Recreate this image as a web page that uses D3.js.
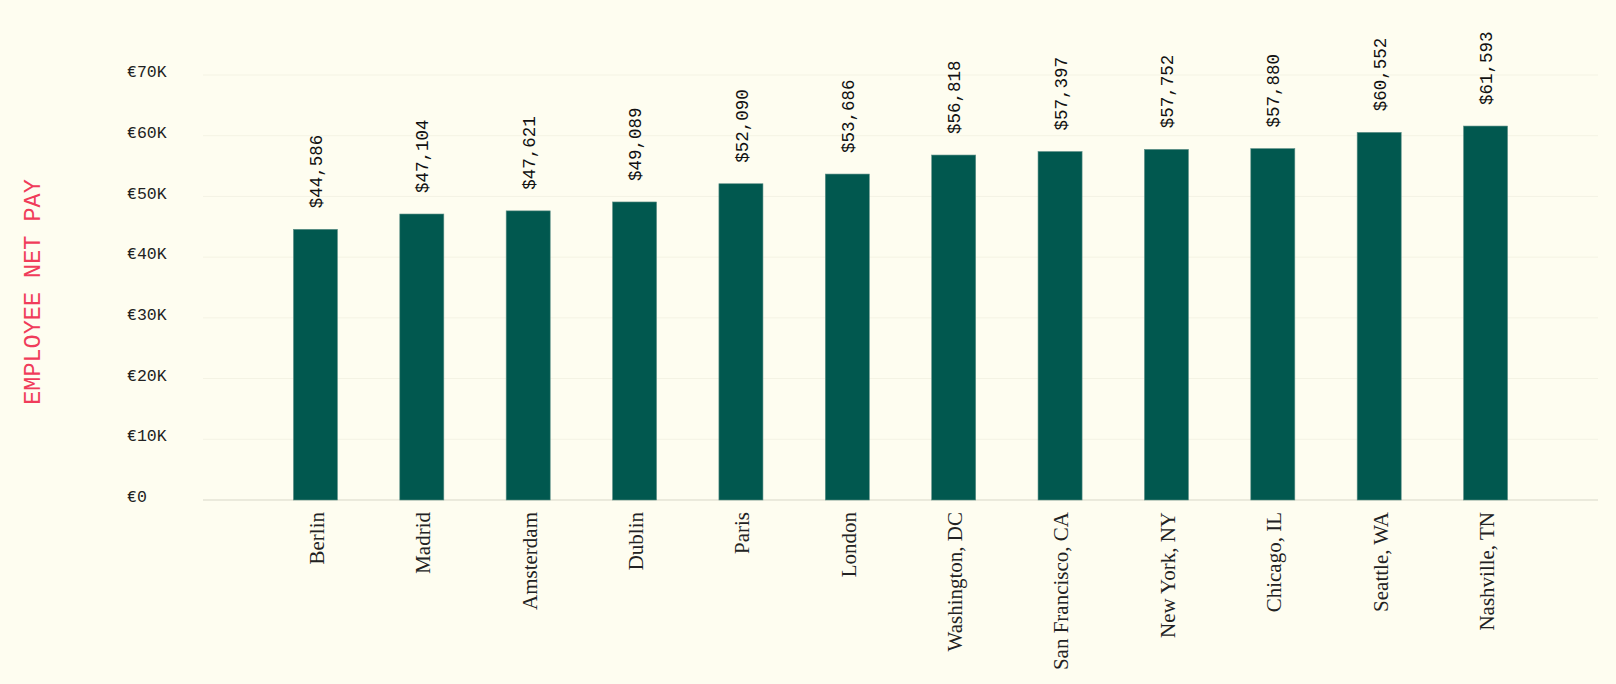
<!DOCTYPE html>
<html>
<head>
<meta charset="utf-8">
<script src="https://cdn.jsdelivr.net/npm/d3@7"></script>
<style>
  body { margin: 0; background: #fefdf0; }
  svg { display: block; }
</style>
</head>
<body>
<div id="chart-area"></div>
<script>
// SVG size
var width = 1616,
	height = 684;

// data
let cities = ["Berlin", "Madrid", "Amsterdam", "Dublin", "Paris", "London",
	"Washington, DC", "San Francisco, CA", "New York, NY", "Chicago, IL",
	"Seattle, WA", "Nashville, TN"];
let netPay = [44586, 47104, 47621, 49089, 52090, 53686,
	56818, 57397, 57752, 57880, 60552, 61593];
let yTicks = [0, 10000, 20000, 30000, 40000, 50000, 60000, 70000];
let yTickLabels = ["€0", "€10K", "€20K", "€30K", "€40K", "€50K", "€60K", "€70K"];

let data = cities.map((c, i) => ({ city: c, pay: netPay[i] }));

let plot = { left: 203, right: 1598, top: 75, bottom: 500 };
let mono = "'Liberation Mono', 'DejaVu Sans Mono', monospace";

let svg = d3.select('#chart-area').append('svg')
	.attr('width', width)
	.attr('height', height);

svg.append('rect')
	.attr('width', width)
	.attr('height', height)
	.attr('fill', '#fefdf0');

let x = d3.scaleBand()
	.domain(cities)
	.range([plot.left, plot.right])
	.paddingInner(0.586)
	.paddingOuter(0.85);

let y = d3.scaleLinear()
	.domain([0, 70000])
	.range([plot.bottom, plot.top]);

// gridlines
svg.append('g')
	.selectAll('line')
	.data(yTicks)
	.enter()
	.append('line')
	.attr('x1', plot.left)
	.attr('x2', plot.right)
	.attr('y1', d => y(d))
	.attr('y2', d => y(d))
	.attr('stroke', d => d === 0 ? '#ebeadc' : '#f4f3e4')
	.attr('stroke-width', d => d === 0 ? 2 : 1);

// y axis labels
let yaxis = d3.axisLeft(y)
	.tickValues(yTicks)
	.tickFormat((d, i) => yTickLabels[i])
	.tickSize(0);

let yg = svg.append('g')
	.attr('class', 'y-axis axis')
	.attr('transform', 'translate(' + plot.left + ',0)')
	.call(yaxis);
yg.select('.domain').remove();
yg.selectAll('text')
	.attr('x', 127 - plot.left)
	.attr('text-anchor', 'start')
	.attr('dy', '0.1em')
	.style('font-family', mono)
	.style('font-size', '16.5px')
	.attr('fill', '#222');

// bars
svg.selectAll('rect.bar')
	.data(data)
	.enter()
	.append('rect')
	.attr('class', 'bar')
	.attr('x', d => x(d.city))
	.attr('width', x.bandwidth())
	.attr('y', d => y(d.pay))
	.attr('height', d => y(0) - y(d.pay))
	.attr('fill', '#01584f')
	.attr('stroke', '#5f9088')
	.attr('stroke-width', 0.6);

// value labels
svg.selectAll('text.value')
	.data(data)
	.enter()
	.append('text')
	.attr('class', 'value')
	.attr('transform', d => 'translate(' + (x(d.city) + x.bandwidth() / 2) + ',' + (y(d.pay) - 21) + ') rotate(-90)')
	.attr('dy', '0.38em')
	.attr('text-anchor', 'start')
	.style('font-family', mono)
	.style('font-size', '17.5px')
	.attr('fill', '#111')
	.text(d => '$' + d3.format(',')(d.pay));

// x axis labels
let xaxis = d3.axisBottom(x).tickSize(0);
let xg = svg.append('g')
	.attr('class', 'x-axis axis')
	.attr('transform', 'translate(0,' + plot.bottom + ')')
	.call(xaxis);
xg.select('.domain').remove();
xg.selectAll('text')
	.attr('transform', 'rotate(-90)')
	.attr('x', -12)
	.attr('y', 0)
	.attr('dy', '0.4em')
	.attr('text-anchor', 'end')
	.style('font-family', "'Liberation Serif', 'DejaVu Serif', serif")
	.style('font-size', '21px')
	.attr('fill', '#222');

// axis title
svg.append('text')
	.attr('transform', 'translate(40,292) rotate(-90)')
	.attr('text-anchor', 'middle')
	.style('font-family', mono)
	.style('font-size', '23.5px')
	.attr('fill', '#f03c5a')
	.text('EMPLOYEE NET PAY');
</script>
</body>
</html>
